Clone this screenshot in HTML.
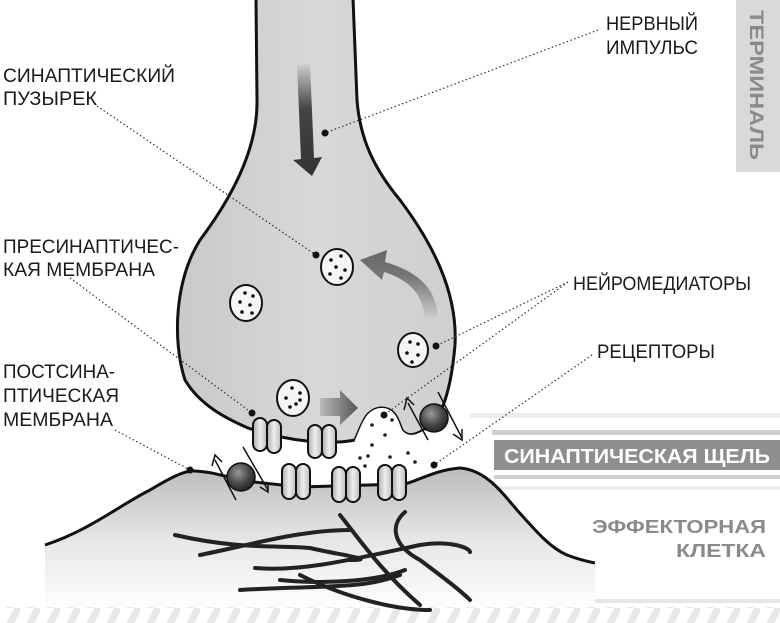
<!DOCTYPE html>
<html><head><meta charset="utf-8"><style>
html,body{margin:0;padding:0;background:#fff;}
svg{display:block;}
.t{font-family:"Liberation Sans","DejaVu Sans",sans-serif;font-size:19px;fill:#1a1a1a;}
.b{font-family:"Liberation Sans","DejaVu Sans",sans-serif;font-weight:bold;}
</style></head><body>
<svg width="780" height="623" viewBox="0 0 780 623" xmlns="http://www.w3.org/2000/svg">
<defs>
<linearGradient id="pre" x1="0" y1="0" x2="1" y2="0">
<stop offset="0" stop-color="#c9c9c9"/><stop offset="0.5" stop-color="#d8d8d8"/><stop offset="1" stop-color="#cfcfcf"/></linearGradient>
<linearGradient id="post" gradientUnits="userSpaceOnUse" x1="0" y1="470" x2="0" y2="610">
<stop offset="0" stop-color="#bdbdbd"/><stop offset="0.5" stop-color="#e6e6e6"/><stop offset="1" stop-color="#fff"/></linearGradient>
<linearGradient id="ar1" x1="0" y1="0" x2="0" y2="1">
<stop offset="0" stop-color="#d0d0d0"/><stop offset="0.4" stop-color="#444"/><stop offset="1" stop-color="#333"/></linearGradient>
<linearGradient id="ar2" x1="0" y1="0" x2="1" y2="0">
<stop offset="0" stop-color="#bbb"/><stop offset="1" stop-color="#555"/></linearGradient>
<linearGradient id="ar3" x1="0" y1="1" x2="0" y2="0">
<stop offset="0" stop-color="#ccc"/><stop offset="0.6" stop-color="#777"/><stop offset="1" stop-color="#666"/></linearGradient>
<radialGradient id="ball" cx="0.4" cy="0.35" r="0.7"><stop offset="0" stop-color="#999"/><stop offset="0.6" stop-color="#444"/><stop offset="1" stop-color="#222"/></radialGradient>
<linearGradient id="rec" x1="0" y1="0" x2="1" y2="0"><stop offset="0" stop-color="#aaa"/><stop offset="0.5" stop-color="#eee"/><stop offset="1" stop-color="#bbb"/></linearGradient>
<pattern id="stripes" width="20" height="16" patternUnits="userSpaceOnUse">
<polygon points="6,16 14,0 22,0 14,16" fill="#e8e8e8"/></pattern>
</defs>

<!-- right side bars -->
<rect x="736" y="0" width="44" height="172" fill="#d9d9d9"/>
<text class="b" transform="translate(750,10) rotate(90)" font-size="19" fill="#8a8a8a" textLength="150" lengthAdjust="spacingAndGlyphs">ТЕРМИНАЛЬ</text>
<rect x="470" y="413" width="310" height="5" fill="#ececec"/>
<rect x="492" y="430" width="288" height="5" fill="#cfcfcf"/>
<rect x="494" y="440" width="286" height="30" fill="#8e8e8e"/>
<text class="b" x="504" y="463" font-size="20" fill="#fff" textLength="266" lengthAdjust="spacingAndGlyphs">СИНАПТИЧЕСКАЯ ЩЕЛЬ</text>
<rect x="494" y="475" width="286" height="4" fill="#cfcfcf"/>
<rect x="492" y="486" width="288" height="4" fill="#ececec"/>
<text class="b" x="766" y="533" font-size="18" fill="#8a8a8a" text-anchor="end" textLength="174" lengthAdjust="spacingAndGlyphs">ЭФФЕКТОРНАЯ</text>
<text class="b" x="766" y="557" font-size="18" fill="#8a8a8a" text-anchor="end" textLength="90" lengthAdjust="spacingAndGlyphs">КЛЕТКА</text>
<rect x="483" y="599" width="297" height="4" fill="#e6e6e6"/>

<!-- postsynaptic cell -->
<path d="M45,545 C90,530 120,505 150,490 C170,478 185,470 195,471 C215,472 230,478 245,481 L300,487 L405,484 C420,480 435,470 460,468 C485,470 500,490 517,510 C535,530 550,548 567,555 C580,560 590,562 595,563 L595,623 L45,623 Z" fill="url(#post)"/>
<path d="M45,545 C90,530 120,505 150,490 C170,478 185,470 195,471 C215,472 230,478 245,481 L300,487 L405,484 C420,480 435,470 460,468 C485,470 500,490 517,510 C535,530 550,548 567,555 C580,560 590,562 595,563" fill="none" stroke="#111" stroke-width="3"/>
<rect x="0" y="607" width="780" height="16" fill="url(#stripes)"/>

<!-- fibers -->
<g fill="none" stroke="#222" stroke-width="4" stroke-linecap="round">
<path d="M175,535 C240,550 280,545 310,548 C340,555 380,560 350,560"/>
<path d="M200,555 C250,545 300,530 350,530"/>
<path d="M255,568 C300,572 350,560 420,545 C450,540 470,548 470,552"/>
<path d="M280,580 C330,585 380,580 405,570"/>
<path d="M240,590 C320,585 360,590 400,575"/>
<path d="M340,515 C360,540 380,570 420,605"/>
<path d="M405,512 C390,525 392,545 420,560 C440,575 460,590 470,600"/>
<path d="M300,575 C350,600 400,610 430,610"/>
</g>

<!-- presynaptic terminal -->
<path d="M256,-2 L257,100 C258,150 230,200 200,240 C175,280 172,340 185,380 C200,405 225,418 248,428 C290,442 330,445 355,440 C362,425 365,410 380,408 C395,407 398,420 402,430 C410,440 420,432 432,425 C445,410 452,380 455,345 C458,290 430,240 400,200 C375,170 360,140 357,100 L353,-2 Z" fill="url(#pre)" stroke="#111" stroke-width="3"/>
<path d="M355,440 C362,425 365,410 380,408 C395,407 398,420 402,430 C410,440 420,432 425,430 L430,462 L350,465 Z" fill="#fff"/>
<g fill="#222">
<circle cx="372" cy="425" r="1.8"/><circle cx="385" cy="435" r="1.8"/><circle cx="392" cy="420" r="1.8"/><circle cx="372" cy="445" r="1.8"/><circle cx="360" cy="458" r="1.8"/><circle cx="368" cy="456" r="1.8"/><circle cx="390" cy="457" r="1.8"/><circle cx="408" cy="453" r="1.8"/><circle cx="415" cy="462" r="1.8"/><circle cx="365" cy="466" r="1.8"/>
</g>

<!-- arrows -->
<path d="M297,65 L310,64 L314,158 L322,157 L312,176 L293,160 L301,159 Z" fill="url(#ar1)"/>
<path d="M320,398 L340,398 L340,390 L358,408 L340,425 L340,416 L320,416 Z" fill="url(#ar2)"/>
<path d="M425,318 L438,316 C436,290 420,272 385,262 L387,250 L360,260 L382,280 L384,272 C410,280 423,295 425,318 Z" fill="url(#ar3)"/>

<!-- vesicles -->
<g stroke="#111" stroke-width="2" fill="#f5f5f5">
<ellipse cx="337" cy="267" rx="16" ry="18"/>
<ellipse cx="246" cy="303" rx="16" ry="18"/>
<ellipse cx="413" cy="350" rx="15" ry="17"/>
<ellipse cx="293" cy="398" rx="16" ry="18"/>
</g>
<g fill="#111">
<circle cx="331" cy="260" r="1.8"/><circle cx="341" cy="256" r="1.8"/><circle cx="336" cy="267" r="1.8"/><circle cx="345" cy="270" r="1.8"/><circle cx="330" cy="274" r="1.8"/><circle cx="341" cy="278" r="1.8"/>
<circle cx="245" cy="293" r="1.8"/><circle cx="240" cy="302" r="1.8"/><circle cx="250" cy="305" r="1.8"/><circle cx="253" cy="296" r="1.8"/><circle cx="242" cy="312" r="1.8"/><circle cx="252" cy="313" r="1.8"/>
<circle cx="410" cy="342" r="1.8"/><circle cx="418" cy="344" r="1.8"/><circle cx="407" cy="353" r="1.8"/><circle cx="418" cy="355" r="1.8"/><circle cx="412" cy="362" r="1.8"/>
<circle cx="292" cy="388" r="1.8"/><circle cx="300" cy="393" r="1.8"/><circle cx="286" cy="398" r="1.8"/><circle cx="296" cy="404" r="1.8"/><circle cx="290" cy="407" r="1.8"/><circle cx="300" cy="400" r="1.8"/>
</g>

<!-- receptors -->
<g stroke="#111" stroke-width="2" fill="url(#rec)">
<rect x="253" y="418" width="14" height="33" rx="7"/><rect x="267" y="420" width="14" height="33" rx="7"/>
<rect x="308" y="425" width="14" height="33" rx="7"/><rect x="322" y="425" width="14" height="33" rx="7"/>
<rect x="282" y="464" width="14" height="35" rx="7"/><rect x="296" y="464" width="14" height="35" rx="7"/>
<rect x="332" y="467" width="14" height="35" rx="7"/><rect x="346" y="467" width="14" height="35" rx="7"/>
<rect x="378" y="465" width="14" height="35" rx="7"/><rect x="392" y="465" width="14" height="35" rx="7"/>
</g>

<!-- transporter balls -->
<g stroke="#111" stroke-width="1.5" fill="none">
<line x1="215" y1="460" x2="236" y2="500"/><polyline points="212,466 215,455 222,462"/>
<line x1="243" y1="447" x2="268" y2="490"/><polyline points="260,487 268,492 268,482"/>
<line x1="408" y1="403" x2="428" y2="440"/><polyline points="404,410 407,398 414,405"/>
<line x1="438" y1="392" x2="462" y2="438"/><polyline points="453,434 462,440 462,429"/>
</g>
<circle cx="241" cy="477" r="14" fill="url(#ball)" stroke="#111" stroke-width="1.5"/>
<circle cx="434" cy="418" r="14" fill="url(#ball)" stroke="#111" stroke-width="1.5"/>

<!-- leader lines -->
<g stroke="#333" stroke-width="1.2" stroke-dasharray="1.5 2.5" fill="none">
<line x1="97" y1="106" x2="316" y2="255"/>
<line x1="598" y1="30" x2="325" y2="133"/>
<line x1="70" y1="278" x2="252" y2="413"/>
<line x1="115" y1="430" x2="190" y2="470"/>
<line x1="568" y1="282" x2="436" y2="346"/>
<line x1="568" y1="282" x2="384" y2="415"/>
<line x1="592" y1="355" x2="434" y2="465"/>
</g>
<g fill="#111">
<circle cx="316" cy="255" r="3.5"/><circle cx="325" cy="133" r="3.5"/><circle cx="252" cy="413" r="3.5"/><circle cx="190" cy="470" r="3.5"/><circle cx="436" cy="346" r="3.5"/><circle cx="384" cy="415" r="3.5"/><circle cx="434" cy="465" r="3.5"/>
</g>

<!-- labels -->
<text class="t" x="3" y="82" textLength="172" lengthAdjust="spacingAndGlyphs">СИНАПТИЧЕСКИЙ</text>
<text class="t" x="3" y="105" textLength="94" lengthAdjust="spacingAndGlyphs">ПУЗЫРЕК</text>
<text class="t" x="606" y="30" textLength="92" lengthAdjust="spacingAndGlyphs">НЕРВНЫЙ</text>
<text class="t" x="606" y="54" textLength="92" lengthAdjust="spacingAndGlyphs">ИМПУЛЬС</text>
<text class="t" x="3" y="253" textLength="176" lengthAdjust="spacingAndGlyphs">ПРЕСИНАПТИЧЕС-</text>
<text class="t" x="3" y="276" textLength="152" lengthAdjust="spacingAndGlyphs">КАЯ МЕМБРАНА</text>
<text class="t" x="573" y="290" textLength="178" lengthAdjust="spacingAndGlyphs">НЕЙРОМЕДИАТОРЫ</text>
<text class="t" x="597" y="358" textLength="118" lengthAdjust="spacingAndGlyphs">РЕЦЕПТОРЫ</text>
<text class="t" x="3" y="378" textLength="112" lengthAdjust="spacingAndGlyphs">ПОСТСИНА-</text>
<text class="t" x="3" y="402" textLength="116" lengthAdjust="spacingAndGlyphs">ПТИЧЕСКАЯ</text>
<text class="t" x="3" y="426" textLength="110" lengthAdjust="spacingAndGlyphs">МЕМБРАНА</text>
</svg>
</body></html>
